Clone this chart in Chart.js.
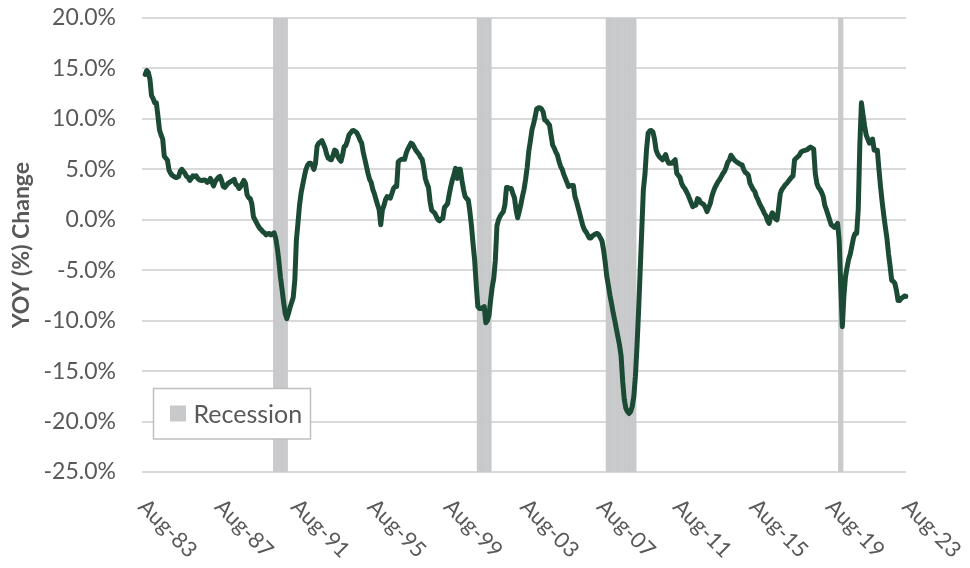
<!DOCTYPE html>
<html>
<head>
<meta charset="utf-8">
<script src="https://cdn.jsdelivr.net/npm/chart.js@4.4.0/dist/chart.umd.min.js"></script>
<style>
html,body{margin:0;padding:0;background:#ffffff;}
#wrap{width:970px;height:568px;}
</style>
</head>
<body>
<div id="wrap"><canvas id="c" width="970" height="568"></canvas></div>
<script>
// ---- DATA ----
const monthNames = ['Jan','Feb','Mar','Apr','May','Jun','Jul','Aug','Sep','Oct','Nov','Dec'];
const firstMonthIndex = 7;   // Aug
const firstYear = 1983;
const monthCount = 481;      // Aug-83 .. Aug-23

const tickLabels = ['Aug-83','Aug-87','Aug-91','Aug-95','Aug-99','Aug-03','Aug-07','Aug-11','Aug-15','Aug-19','Aug-23'];

const yoyValues = [
  null, null, 14.4, 14.8, 14.6, 13.9, 12.3, 12.0, 11.6, 11.6, 10.3, 8.9,
  8.4, 8.0, 6.3, 6.1, 5.9, 4.9, 4.6, 4.4, 4.3, 4.2, 4.2, 4.3,
  4.8, 5.0, 4.8, 4.6, 4.3, 4.2, 3.9, 4.1, 4.35, 4.3, 4.35, 4.1,
  3.95, 3.9, 3.9, 3.95, 3.9, 3.7, 3.8, 4.1, 3.7, 3.35, 3.8, 4.0,
  4.2, 4.3, 3.9, 3.3, 3.2, 3.4, 3.6, 3.7, 3.8, 3.9, 4.0, 3.5,
  3.4, 3.1, 3.3, 3.6, 3.9, 3.6, 2.5, 2.2, 2.1, 1.6, 0.3, 0.0,
  -0.3, -0.6, -0.85, -1.0, -1.2, -1.3, -1.5, -1.4, -1.35, -1.5, -1.4, -1.3,
  -1.8, -2.8, -4.1, -5.7, -6.9, -8.2, -9.3, -9.8, -9.3, -8.7, -8.2, -7.7,
  -6.0, -2.0, -0.3, 1.5, 2.7, 3.5, 4.3, 5.0, 5.4, 5.6, 5.6, 5.4,
  5.0, 5.6, 7.3, 7.6, 7.7, 7.85, 7.5, 7.1, 6.5, 6.1, 6.0, 5.95,
  6.4, 6.9, 6.8, 6.25, 6.0, 5.8, 6.4, 7.25, 7.35, 7.8, 8.4, 8.6,
  8.8, 8.85, 8.75, 8.6, 8.3, 7.9, 7.6, 6.7, 6.0, 5.3, 4.6, 4.0,
  3.7, 3.0, 2.6, 2.0, 1.5, 1.0, -0.5, 0.95, 1.4, 2.0, 2.3, 2.2,
  2.15, 2.6, 3.1, 3.3, 3.3, 5.75, 5.9, 6.0, 6.0, 6.0, 6.6, 7.0,
  7.3, 7.6, 7.5, 7.2, 6.9, 6.7, 6.5, 6.2, 6.0, 5.2, 4.1, 3.6,
  3.2, 1.8, 0.95, 0.8, 0.65, 0.3, 0.0, -0.1, 0.1, 0.15, 1.2, 1.4,
  1.6, 2.5, 3.3, 3.95, 4.5, 5.1, 4.1, 5.0, 5.0, 3.9, 3.0, 2.3,
  2.1, 1.95, 0.8, -0.6, -2.4, -4.0, -6.5, -8.6, -8.8, -8.8, -8.7, -8.6,
  -10.2, -10.0, -9.5, -8.0, -6.7, -5.8, -4.0, -0.6, 0.0, 0.35, 0.6, 0.8,
  1.5, 3.2, 3.2, 3.1, 3.1, 2.6, 2.2, 1.0, 0.2, 0.8, 1.5, 2.3,
  3.0, 4.0, 5.2, 6.8, 7.8, 8.9, 9.5, 10.2, 11.0, 11.1, 11.1, 11.0,
  10.7, 9.9, 9.8, 9.6, 9.4, 8.4, 7.4, 7.1, 6.7, 6.4, 5.8, 5.3,
  5.0, 4.5, 4.1, 3.7, 3.3, 3.35, 3.4, 3.4, 2.3, 1.8, 1.2, 0.6,
  0.0, -0.6, -1.0, -1.2, -1.5, -1.8, -1.8, -1.6, -1.5, -1.4, -1.35, -1.5,
  -1.8, -2.1, -3.0, -4.2, -5.6, -6.5, -7.5, -8.3, -9.2, -9.95, -10.8, -11.6,
  -12.4, -13.5, -16.0, -17.8, -18.7, -19.0, -19.2, -19.0, -18.5, -17.5, -15.5, -12.5,
  -9.0, -5.0, -1.0, 3.0, 4.5, 7.0, 8.6, 8.8, 8.85, 8.7, 8.0, 6.9,
  6.5, 6.25, 6.1, 5.95, 6.2, 6.45, 5.9, 5.6, 5.6, 5.6, 5.8, 5.95,
  4.6, 4.4, 4.2, 3.6, 3.3, 3.1, 2.8, 2.5, 2.1, 1.7, 1.3, 1.4,
  1.45, 2.1, 2.0, 1.7, 1.6, 1.5, 1.2, 0.8, 1.2, 1.6, 2.3, 2.8,
  3.2, 3.5, 3.8, 4.0, 4.3, 4.6, 4.8, 5.2, 5.7, 5.9, 6.4, 6.2,
  5.95, 5.8, 5.7, 5.6, 5.5, 5.45, 5.0, 4.7, 4.6, 4.4, 3.6, 3.3,
  3.0, 2.8, 2.3, 2.0, 1.6, 1.3, 1.0, 0.65, 0.4, -0.1, -0.35, 0.3,
  0.7, 0.4, 0.1, 0.0, 1.2, 2.6, 3.0, 3.2, 3.45, 3.6, 3.8, 4.0,
  4.2, 4.35, 5.95, 6.1, 6.25, 6.4, 6.7, 6.8, 6.85, 6.9, 6.95, 7.1,
  7.2, 7.1, 7.0, 4.6, 3.6, 3.2, 3.0, 2.7, 2.3, 1.4, 1.0, 0.5,
  0.0, -0.5, -0.6, -0.75, -0.6, -0.35, -2.0, -6.5, -10.6, -7.5, -5.65, -4.7,
  -3.9, -3.4, -2.6, -1.8, -1.35, -1.35, 1.0, 7.5, 11.6, 10.4, 9.3, 8.4,
  8.0, 7.6, 7.8, 8.0, 6.9, 6.9, 6.9, 5.0, 3.3, 1.8, 0.5, -0.7,
  -1.8, -3.35, -4.6, -6.0, -6.1, -6.3, -7.0, -8.0, -8.0, -7.8, -7.7, -7.55,
  -7.6
];

const recessionStarts = ['Jul-90', 'Mar-01', 'Dec-07', 'Feb-20'];
const recessionEnds   = ['Mar-91', 'Nov-01', 'Jun-09', 'Apr-20'];

const yMin = -25, yMax = 20, yStep = 5;

// ---- build tables ----
const labels = [];
for (let k = 0; k < monthCount; k++) {
  const m = (firstMonthIndex + k) % 12;
  const y = firstYear + Math.floor((firstMonthIndex + k) / 12);
  labels.push(monthNames[m] + '-' + String(y % 100).padStart(2, '0'));
}
const recessionBars = labels.map((l, idx) => {
  for (let r = 0; r < recessionStarts.length; r++) {
    const s = labels.indexOf(recessionStarts[r]);
    const e = labels.indexOf(recessionEnds[r]);
    if (idx >= s && idx <= e) return [yMin, yMax];
  }
  return null;
});

const FONT = 'Lato, "Open Sans", sans-serif';
const TEXT = '#595959';

const overlay = {
  id: 'overlay',
  afterDraw(chart) {
    const ctx = chart.ctx;
    const xs = chart.scales.x;
    const area = chart.chartArea;
    // rotated category labels
    ctx.save();
    ctx.fillStyle = TEXT;
    ctx.font = '22px ' + FONT;
    ctx.textAlign = 'left';
    ctx.textBaseline = 'middle';
    tickLabels.forEach(t => {
      const idx = labels.indexOf(t);
      const px = xs.getPixelForValue(idx);
      ctx.save();
      ctx.translate(px, area.bottom + 31);
      ctx.rotate(Math.PI / 4);
      ctx.fillText(t, 0, 0);
      ctx.restore();
    });
    ctx.restore();
    // legend box
    ctx.save();
    const lx = area.left + 11.5, ly = area.bottom - 83.5, lw = 157, lh = 50.5;
    ctx.fillStyle = '#ffffff';
    ctx.fillRect(lx, ly, lw, lh);
    ctx.strokeStyle = '#bfbfbf';
    ctx.lineWidth = 1.5;
    ctx.strokeRect(lx, ly, lw, lh);
    ctx.fillStyle = '#c8c9cb';
    ctx.fillRect(lx + 16.5, ly + 17, 16, 16);
    ctx.fillStyle = TEXT;
    ctx.font = '25px ' + FONT;
    ctx.textAlign = 'left';
    ctx.textBaseline = 'middle';
    ctx.fillText('Recession', lx + 40, ly + 26);
    ctx.restore();
  }
};

new Chart(document.getElementById('c').getContext('2d'), {
  data: {
    labels: labels,
    datasets: [
      {
        type: 'line', label: 'YOY (%) Change', data: yoyValues,
        borderColor: '#1c4b35', borderWidth: 5, pointRadius: 0, tension: 0,
        borderJoinStyle: 'round', borderCapStyle: 'round', order: 0
      },
      {
        type: 'bar', label: 'Recession', data: recessionBars,
        backgroundColor: '#c8c9cb', borderWidth: 0,
        barPercentage: 1.3, categoryPercentage: 1, grouped: false, order: 1
      }
    ]
  },
  options: {
    responsive: false, animation: false, devicePixelRatio: 1,
    layout: { padding: { top: 18, right: 64, bottom: 0, left: 0 } },
    plugins: { legend: { display: false }, tooltip: { enabled: false } },
    scales: {
      x: {
        type: 'category', offset: false,
        grid: { display: false }, border: { display: false },
        ticks: { display: false },
        afterFit(s) { s.height = 96; }
      },
      y: {
        min: yMin, max: yMax,
        ticks: {
          stepSize: yStep, color: TEXT, padding: 26,
          font: { family: FONT, size: 23 },
          callback: v => v.toFixed(1) + '%'
        },
        grid: { color: '#d9d9d9', lineWidth: 2, drawTicks: false },
        border: { display: false },
        title: {
          display: true, text: 'YOY (%) Change', color: TEXT,
          font: { family: FONT, size: 23, weight: 'bold' },
          padding: { top: 8, bottom: 0 }
        },
        afterFit(s) { s.width = 142; s.paddingTop = 0; s.paddingBottom = 0; }
      }
    }
  },
  plugins: [overlay]
});
</script>
</body>
</html>
